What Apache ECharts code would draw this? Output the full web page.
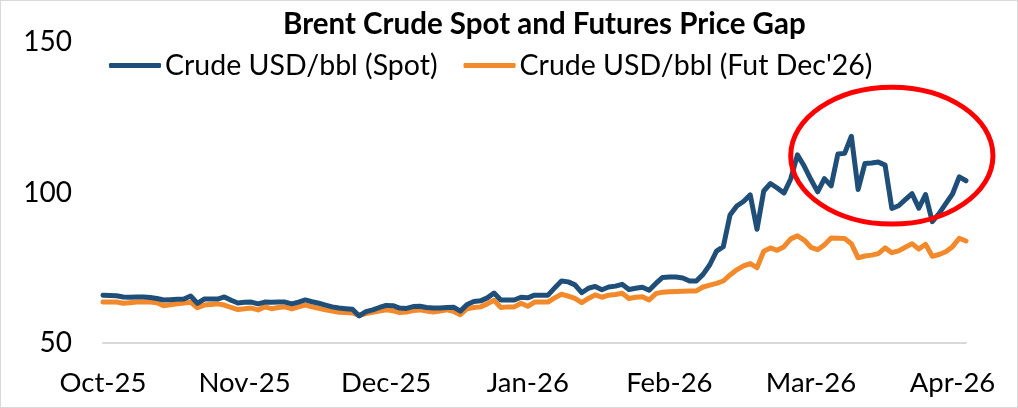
<!DOCTYPE html>
<html>
<head>
<meta charset="utf-8">
<script src="https://cdn.jsdelivr.net/npm/echarts@6/dist/echarts.min.js"></script>
<style>
html,body{margin:0;padding:0;background:#fff;}
#c{width:1018px;height:408px;box-sizing:border-box;border:1px solid #D9D9D9;}
</style>
</head>
<body>
<div id="c"></div>
<script>
// Tick labels (one every 21 trading days)
const tickLabels = ["Oct-25","Nov-25","Dec-25","Jan-26","Feb-26","Mar-26","Apr-26"];
const labelEvery = 21;

// Crude USD/bbl (Spot)
const spot = [
 65.9,65.8,65.7,65.3,65.2,65.3,65.3,65.1,64.8,64.3,
 64.4,64.5,64.6,65.6,63.2,64.6,64.6,64.6,65.3,64.2,
 63.3,63.5,63.6,63.0,63.6,63.5,63.6,63.6,63.0,63.6,
 64.3,63.7,63.2,62.6,62.0,61.6,61.4,61.2,59.0,60.4,
 61.0,61.8,62.5,62.4,61.6,61.5,62.1,62.2,61.8,61.6,
 61.6,61.8,61.9,60.6,62.8,63.8,64.0,65.0,66.6,64.3,
 64.3,64.3,65.2,65.0,65.9,65.9,65.9,68.3,70.6,70.3,
 69.3,66.7,68.2,68.8,67.7,68.6,68.9,69.5,67.8,68.2,
 68.5,67.5,69.8,71.8,71.9,71.9,71.6,70.6,70.6,72.8,
 76.0,80.5,82.0,92.5,95.5,97.0,99.2,87.8,100.5,103.0,
 101.5,99.8,104.5,112.5,108.8,104.3,100.2,104.6,102.2,112.8,
 113.0,118.7,101.0,109.6,109.8,110.1,109.1,94.7,95.6,97.6,
 99.6,94.8,99.3,90.3,93.0,96.3,99.5,105.2,103.9
];

// Crude USD/bbl (Fut Dec'26)
const fut = [
 63.6,63.6,63.6,63.2,63.4,63.6,63.6,63.6,63.4,62.4,
 62.7,63.0,63.3,63.5,61.7,62.6,62.8,63.0,62.6,61.8,
 61.1,61.4,61.6,61.0,62.0,61.4,61.8,62.0,61.3,62.0,
 62.6,62.0,61.5,61.0,60.6,60.2,60.1,60.0,59.2,59.8,
 60.2,60.6,61.0,60.7,60.1,60.3,60.8,61.0,60.6,60.3,
 60.6,61.0,60.5,59.4,61.4,61.8,62.0,63.0,64.2,61.8,
 62.0,62.0,63.2,62.2,63.6,63.6,63.6,65.0,66.2,65.6,
 64.8,63.4,64.8,66.0,65.2,65.9,66.1,66.5,64.8,65.2,
 65.4,64.3,66.4,66.9,67.0,67.1,67.2,67.3,67.3,68.6,
 69.2,69.8,70.6,72.6,74.3,75.6,76.4,75.0,80.5,81.6,
 80.8,82.0,84.6,85.6,84.2,81.8,81.0,82.6,84.9,84.8,
 84.7,83.0,78.3,78.9,79.2,79.7,81.6,80.0,80.6,81.8,
 83.0,81.2,82.8,78.8,79.4,80.3,82.0,84.8,83.9
];

const seriesNames = ["Crude USD/bbl (Spot)", "Crude USD/bbl (Fut Dec'26)"];
const categories = spot.map((_, i) => i);

const FONT = 'Lato';
const chart = echarts.init(document.getElementById('c'), null, {renderer: 'canvas'});
const option = {
  animation: false,
  backgroundColor: '#fff',
  title: {
    text: 'Brent Crude Spot and Futures Price Gap',
    left: 277, top: 3,
    textStyle: {fontFamily: FONT, fontWeight: 'bold', fontSize: 29.5, color: '#000'}
  },
  legend: {
    data: seriesNames,
    left: 103, top: 45,
    icon: 'roundRect',
    itemWidth: 52, itemHeight: 5, itemGap: 26,
    textStyle: {fontFamily: FONT, fontSize: 28.5, color: '#000', padding: [0,0,0,-1]}
  },
  grid: {left: 102, right: 51, top: 41, bottom: 64, containLabel: false},
  xAxis: {
    type: 'category', data: categories, boundaryGap: false,
    axisLine: {show: true, lineStyle: {color: '#D9D9D9', width: 2}},
    axisTick: {show: false},
    axisLabel: {
      interval: labelEvery - 1, margin: 26,
      fontFamily: FONT, fontSize: 27.5, color: '#000',
      formatter: (v, i) => tickLabels[Math.round(i / labelEvery)] || ''
    },
    splitLine: {show: false}
  },
  yAxis: {
    type: 'value', min: 50, max: 150, interval: 50,
    axisLine: {show: false}, axisTick: {show: false},
    splitLine: {show: false},
    axisLabel: {margin: 31, fontFamily: FONT, fontSize: 28, color: '#000'}
  },
  series: [
    {name: seriesNames[0], type: 'line', data: spot, showSymbol: false, z: 3,
     lineStyle: {color: '#1F4E79', width: 5, cap: 'round', join: 'round'}, itemStyle: {color: '#1F4E79'}},
    {name: seriesNames[1], type: 'line', data: fut, showSymbol: false, z: 2,
     lineStyle: {color: '#F28A2B', width: 5, cap: 'round', join: 'round'}, itemStyle: {color: '#F28A2B'}}
  ]
};
chart.setOption(option);

// Red annotation ellipse, placed in data coordinates
const c1 = chart.convertToPixel({seriesIndex: 0}, [101.9, 135.0]);
const c2 = chart.convertToPixel({seriesIndex: 0}, [131.5, 89.5]);
chart.setOption({
  graphic: [{
    type: 'ellipse', z: 10, silent: true,
    shape: {cx: (c1[0] + c2[0]) / 2, cy: (c1[1] + c2[1]) / 2,
            rx: Math.abs(c2[0] - c1[0]) / 2, ry: Math.abs(c2[1] - c1[1]) / 2},
    style: {fill: 'none', stroke: '#FF0000', lineWidth: 5}
  }]
});
</script>
</body>
</html>
